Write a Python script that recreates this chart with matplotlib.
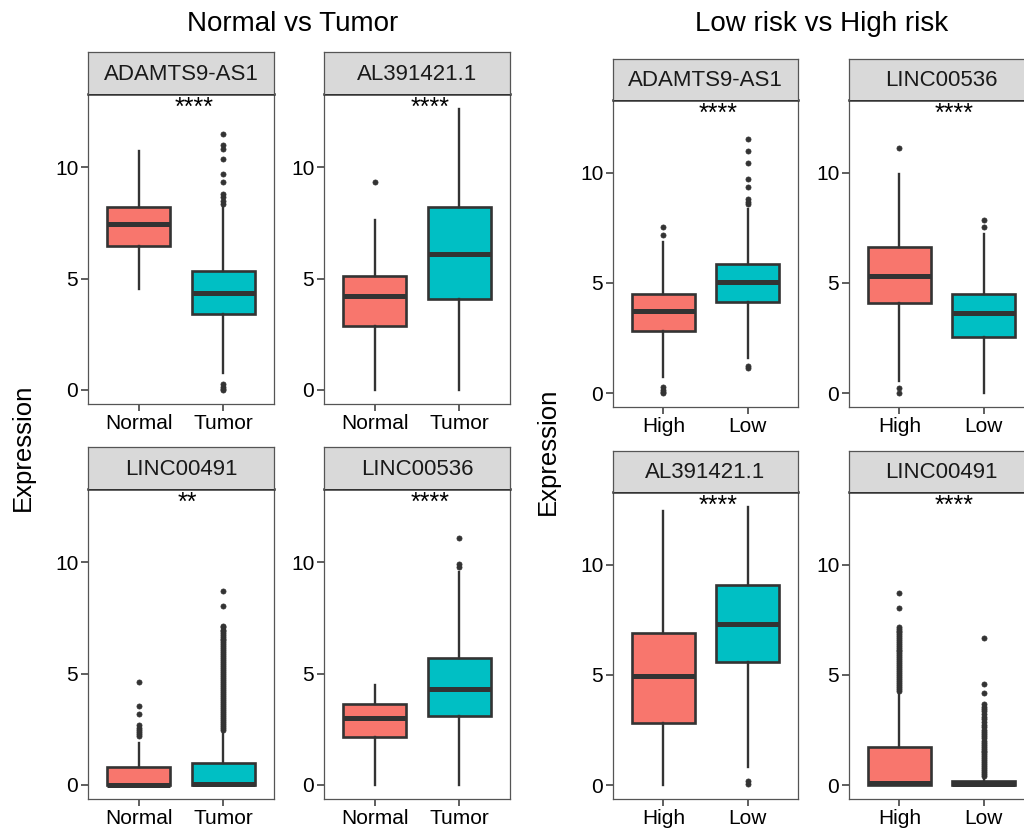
import matplotlib
matplotlib.use('Agg')
import matplotlib.pyplot as plt

plt.rcParams['font.family'] = ['Liberation Sans', 'DejaVu Sans']

# ---------------- data ----------------
g1_title = 'Normal vs Tumor'
g1_groups = ['Normal', 'Tumor']
g1_genes = ['ADAMTS9-AS1', 'AL391421.1', 'LINC00491', 'LINC00536']
g1_signif = ['****', '****', '**', '****']
# [whisker low, Q1, median, Q3, whisker high]
g1_first = [[4.55, 6.45, 7.48, 8.24, 10.75],
            [0.02, 2.88, 4.21, 5.12, 7.63],
            [0.00, 0.00, 0.02, 0.81, 1.87],
            [0.00, 2.17, 2.99, 3.62, 4.48]]
g1_second = [[0.75, 3.40, 4.37, 5.34, 8.24],
             [0.00, 4.10, 6.13, 8.22, 12.63],
             [0.00, 0.00, 0.06, 1.00, 2.42],
             [0.00, 3.11, 4.32, 5.72, 9.55]]
g1_first_out = [[],
                [9.34],
                [4.62, 3.54, 3.17, 2.68, 2.58, 2.48, 2.38, 2.28, 2.20],
                []]
g1_second_out = [[11.49, 10.99, 10.84, 10.40, 9.72, 9.34, 8.81, 8.67, 8.51, 8.37,
                  0.27, 0.15, 0.05, 0.00],
                 [],
                 [8.73, 8.03, 7.16, 7.08, 6.98, 6.90, 6.82, 6.74, 6.66, 6.58, 6.50,
                  6.41, 6.33, 6.24, 6.15, 6.06, 5.97, 5.88, 5.79, 5.70, 5.61, 5.52,
                  5.43, 5.34, 5.25, 5.16, 5.07, 4.98, 4.89, 4.80, 4.71, 4.62, 4.53,
                  4.44, 4.35, 4.26, 4.17, 4.08, 3.99, 3.90, 3.81, 3.72, 3.63, 3.54,
                  3.45, 3.36, 3.27, 3.18, 3.09, 3.00, 2.91, 2.82, 2.73, 2.64, 2.55,
                  2.47],
                 [11.09, 9.94, 9.78]]

g2_title = 'Low risk vs High risk'
g2_groups = ['High', 'Low']
g2_genes = ['ADAMTS9-AS1', 'LINC00536', 'AL391421.1', 'LINC00491']
g2_signif = ['****', '****', '****', '****']
g2_first = [[0.72, 2.84, 3.74, 4.51, 6.86],
            [0.54, 4.09, 5.31, 6.65, 9.92],
            [0.00, 2.84, 4.97, 6.92, 12.46],
            [0.00, 0.00, 0.08, 1.72, 4.21]]
g2_second = [[1.60, 4.12, 5.05, 5.88, 8.34],
             [0.00, 2.53, 3.65, 4.52, 7.22],
             [0.82, 5.57, 7.30, 9.08, 12.64],
             [0.00, 0.00, 0.04, 0.18, 0.32]]
g2_first_out = [[7.54, 7.18, 0.27, 0.15, 0.05, 0.00],
                [11.10, 0.23, 0.00],
                [],
                [8.73, 8.02, 7.19, 7.10, 7.01, 6.93, 6.85, 6.76, 6.68, 6.59, 6.50,
                 6.42, 6.33, 6.24, 6.15, 6.07, 5.98, 5.89, 5.80, 5.71, 5.62, 5.53,
                 5.44, 5.35, 5.26, 5.17, 5.08, 4.99, 4.90, 4.81, 4.72, 4.63, 4.54,
                 4.45, 4.36, 4.28]]
g2_second_out = [[11.52, 11.00, 10.42, 9.73, 9.35, 8.82, 8.69, 8.57, 1.25, 1.13],
                 [7.86, 7.54],
                 [0.18, 0.06],
                 [6.68, 4.60, 4.19, 3.66, 3.55, 3.44, 3.36, 3.22, 3.10, 2.98, 2.86,
                  2.74, 2.62, 2.52, 2.42, 2.32, 2.22, 2.12, 2.02, 1.93, 1.84, 1.75,
                  1.66, 1.57, 1.48, 1.39, 1.30, 1.21, 1.12, 1.03, 0.94, 0.85, 0.76,
                  0.67, 0.58, 0.49, 0.41]]

y_ticks = [0, 5, 10]
y_label = 'Expression'

# ---------------- style ----------------
W, H = 1024, 833
RED, TEAL, DARK = '#F8766D', '#00BFC4', '#333333'
BORDER = '#555555'
fig = plt.figure(figsize=(W / 100, H / 100), dpi=100)


def rect(x0, y0, x1, y1):
    return [x0 / W, 1 - y1 / H, (x1 - x0) / W, (y1 - y0) / H]


def to_stats(vals, out):
    lo, q1, med, q3, hi = vals
    return dict(whislo=lo, q1=q1, med=med, q3=q3, whishi=hi, fliers=out)


def draw_group(cols, strip_tops, panel_tops, panel_bottoms, pw, genes, groups,
               first, second, first_out, second_out, signif):
    axes = []
    for i, gene in enumerate(genes):
        r, c = divmod(i, 2)
        x0 = cols[c]
        ax = fig.add_axes(rect(x0, panel_tops[r], x0 + pw, panel_bottoms[r]))
        stats = [to_stats(first[i], first_out[i]), to_stats(second[i], second_out[i])]
        bp = ax.bxp(stats, positions=[1, 2], widths=0.75, patch_artist=True,
                    showcaps=False,
                    boxprops=dict(edgecolor=DARK, linewidth=1.9),
                    medianprops=dict(color=DARK, linewidth=3.6, solid_capstyle='butt'),
                    whiskerprops=dict(color=DARK, linewidth=1.7),
                    flierprops=dict(marker='o', markerfacecolor=DARK,
                                    markeredgecolor=DARK, markersize=3.7,
                                    markeredgewidth=0.5))
        for patch, col in zip(bp['boxes'], [RED, TEAL]):
            patch.set_facecolor(col)
        ax.set_xlim(0.4, 2.6)
        ax.set_ylim(-0.63, 13.3)
        ax.set_yticks(y_ticks)
        ax.set_xticks([1, 2])
        ax.set_xticklabels(groups)
        ax.tick_params(axis='both', labelsize=15, length=5, width=1.1,
                       color=DARK, labelcolor='black', pad=2)
        for s in ax.spines.values():
            s.set_color(BORDER)
            s.set_linewidth(0.9)
        ax.spines['top'].set_color(DARK)
        ax.spines['top'].set_linewidth(1.8)
        sx = 1.654 if signif[i] == '****' else 1.58
        ax.text(sx, 0.995, signif[i], transform=ax.get_xaxis_transform(),
                ha='center', va='top', fontsize=18, color='black')
        # strip
        sa = fig.add_axes(rect(x0, strip_tops[r], x0 + pw, panel_tops[r]))
        sa.set_facecolor('#D9D9D9')
        sa.set_xticks([])
        sa.set_yticks([])
        for s in sa.spines.values():
            s.set_color(BORDER)
            s.set_linewidth(0.9)
        sa.spines['bottom'].set_visible(False)
        sa.text(0.5, 0.47, gene, transform=sa.transAxes, ha='center', va='center',
                fontsize=16, color='#1a1a1a')
        axes.append(ax)
    return axes


draw_group([88, 324], [52, 447], [94, 489], [404, 799], 186, g1_genes, g1_groups,
           g1_first, g1_second, g1_first_out, g1_second_out, g1_signif)
draw_group([613, 849], [59, 451], [100, 492], [407, 799], 185, g2_genes, g2_groups,
           g2_first, g2_second, g2_first_out, g2_second_out, g2_signif)

fig.text(293 / W, 1 - 24 / H, g1_title, ha='center', va='center', fontsize=20)
fig.text(822 / W, 1 - 24 / H, g2_title, ha='center', va='center', fontsize=20)
fig.text(23 / W, 1 - 447 / H, y_label, ha='center', va='center', rotation=90,
         fontsize=18.5)
fig.text(548 / W, 1 - 451 / H, y_label, ha='center', va='center', rotation=90,
         fontsize=18.5)

fig.savefig('out.png', dpi=100, facecolor='white')
